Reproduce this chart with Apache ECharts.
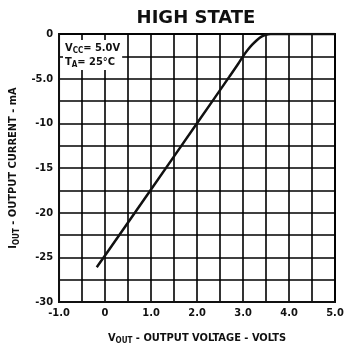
<!DOCTYPE html>
<html><head><meta charset="utf-8">
<script src="https://cdn.jsdelivr.net/npm/echarts@6/dist/echarts.min.js"></script>
<style>html,body{margin:0;padding:0;background:#fff}#c{width:357px;height:350px}</style>
</head><body><div id="c"></div>
<script>
const vOut = [-0.18, 0, 1.0, 2.0, 2.7, 2.9, 3.0, 3.1, 3.2, 3.3, 3.4, 3.5, 3.6, 5.0];
const iOut = [-26.1, -24.8, -17.4, -10.0, -4.8, -3.3, -2.5, -1.8, -1.2, -0.7, -0.3, -0.08, 0, 0];
const xTicks = {'-1':'-1.0','0':'0','1':'1.0','2':'2.0','3':'3.0','4':'4.0','5':'5.0'};
const yTicks = {'0':'0','-5':'-5.0','-10':'-10','-15':'-15','-20':'-20','-25':'-25','-30':'-30'};
const font = "'DejaVu Sans Condensed','Liberation Sans Narrow',sans-serif";
const chart = echarts.init(document.getElementById('c'));
chart.setOption({
  animation:false,
  title:{text:'HIGH STATE',left:191,textAlign:'center',top:4,textStyle:{fontFamily:"'DejaVu Sans',sans-serif",fontWeight:'bold',fontSize:18,color:'#111'}},
  grid:{left:55,right:22,top:34,bottom:41,show:true,borderColor:'#111',borderWidth:2,backgroundColor:'transparent'},
  xAxis:{type:'value',min:-1,max:5,interval:0.5,
    axisLine:{show:true,onZero:false,lineStyle:{color:'#111',width:2}},
    axisTick:{show:false},
    splitLine:{lineStyle:{color:'#000',width:1.6}},
    axisLabel:{fontFamily:font,fontSize:11,fontWeight:'bold',color:'#111',margin:6,
      formatter:v=>{const k=String(Math.round(v*10)/10);return (Number.isInteger(v) && xTicks[k]!==undefined)?xTicks[k]:'';}},
    name:'{n|V}{s|OUT}{n| - OUTPUT VOLTAGE - VOLTS}',nameLocation:'middle',nameGap:29,
    nameTextStyle:{rich:{n:{fontFamily:font,fontSize:11,fontWeight:'bold',color:'#111'},s:{fontFamily:font,fontSize:8,fontWeight:'bold',color:'#111',verticalAlign:'bottom',padding:[6,0,0,0]}}}
  },
  yAxis:{type:'value',min:-30,max:0,interval:2.5,
    axisLine:{show:true,onZero:false,lineStyle:{color:'#111',width:2}},
    axisTick:{show:false},
    splitLine:{lineStyle:{color:'#000',width:1.6}},
    axisLabel:{fontFamily:font,fontSize:11,fontWeight:'bold',color:'#111',margin:6,
      formatter:v=>{const k=String(v);return yTicks[k]!==undefined?yTicks[k]:'';}},
    name:'{n|I}{s|OUT}{n| - OUTPUT CURRENT - mA}',nameLocation:'middle',nameGap:25,nameRotate:90,
    nameTextStyle:{rich:{n:{fontFamily:font,fontSize:11,fontWeight:'bold',color:'#111'},s:{fontFamily:font,fontSize:8,fontWeight:'bold',color:'#111',verticalAlign:'bottom',padding:[6,0,0,0]}}}
  },
  graphic:[{type:'text',left:63,top:40,z:100,style:{
    text:'{n|V}{s|CC}{n|= 5.0V}\n{n|T}{s|A}{n|= 25°C}',
    rich:{n:{fontFamily:font,fontSize:11,fontWeight:'bold',fill:'#111',lineHeight:14},s:{fontFamily:font,fontSize:8,fontWeight:'bold',fill:'#111',padding:[6,0,0,0],lineHeight:14}},
    backgroundColor:'#fff',padding:[1,2,1,2]}}],
  series:[{type:'line',data:vOut.map((x,i)=>[x,iOut[i]]),smooth:0.3,showSymbol:false,
    lineStyle:{color:'#111',width:2.5},z:10}]
});
</script></body></html>
